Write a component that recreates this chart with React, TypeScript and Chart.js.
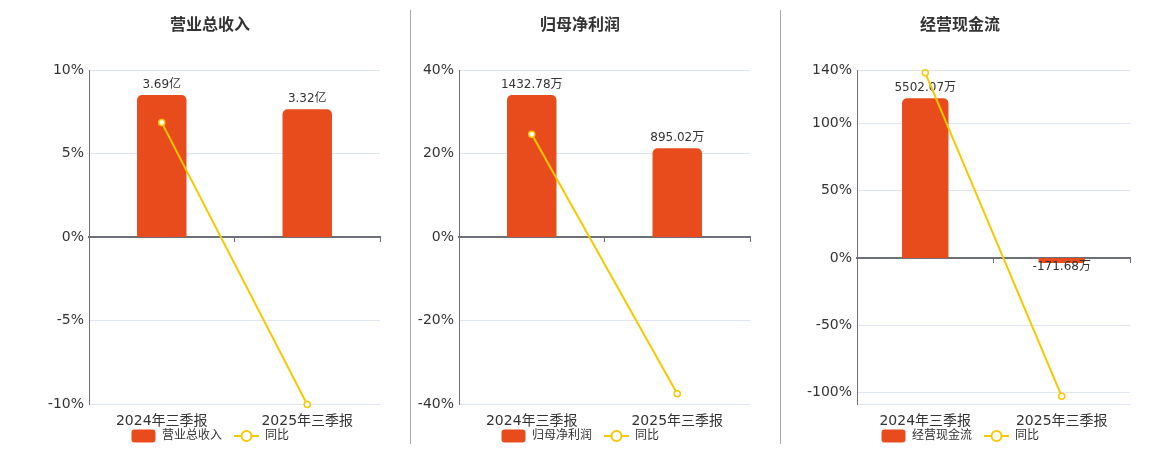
import React, { useEffect, useRef } from 'react';
import Chart from 'chart.js/auto';

const periods = ['2024年三季报', '2025年三季报'];

const revenueValues = [3.69, 3.32];
const revenueLabels = ['3.69亿', '3.32亿'];
const revenueYoy = [6.85, -10.03];
const revenueTicks = [-10, -5, 0, 5, 10];
const revenueRange = [-10, 10];

const profitValues = [1432.78, 895.02];
const profitLabels = ['1432.78万', '895.02万'];
const profitYoy = [24.6, -37.53];
const profitTicks = [-40, -20, 0, 20, 40];
const profitRange = [-40, 40];

const cashValues = [5502.07, -171.68];
const cashLabels = ['5502.07万', '-171.68万'];
const cashYoy = [137.9, -103.12];
const cashTicks = [-100, -50, 0, 50, 100, 140];
const cashRange = [-108.8, 140];

const BAR = '#e84c1c';
const LINE = '#f5c800';
const AXIS = '#6e7079';
const GRID = '#e0e6f1';
const TEXT = '#333';
const FONT = '"DejaVu Sans", "Noto Sans CJK SC", sans-serif';

Chart.defaults.font.family = FONT;

function makeBarIcon() {
  const c = document.createElement('canvas');
  c.width = 25;
  c.height = 14;
  const ctx = c.getContext('2d')!;
  ctx.fillStyle = BAR;
  ctx.beginPath();
  ctx.roundRect(0.5, 0.5, 24, 13, 3);
  ctx.fill();
  return c;
}

function makeLineIcon() {
  const c = document.createElement('canvas');
  c.width = 25;
  c.height = 14;
  const ctx = c.getContext('2d')!;
  ctx.strokeStyle = LINE;
  ctx.lineWidth = 2;
  ctx.beginPath();
  ctx.moveTo(0, 7);
  ctx.lineTo(25, 7);
  ctx.stroke();
  ctx.beginPath();
  ctx.arc(12.5, 7, 5, 0, Math.PI * 2);
  ctx.fillStyle = '#fff';
  ctx.fill();
  ctx.stroke();
  return c;
}

const noPadding = (s: any) => {
  s.paddingLeft = 0;
  s.paddingRight = 0;
};

interface PanelProps {
  title: string;
  values: number[];
  labels: string[];
  yoy: number[];
  ticks: number[];
  range: number[];
  axisWidth: number;
  left: number;
}

const Panel: React.FC<PanelProps> = ({ title, values, labels, yoy, ticks, range, axisWidth, left }) => {
  const canvasRef = useRef<HTMLCanvasElement>(null);

  useEffect(() => {
    if (!canvasRef.current) return;
    const barIcon = makeBarIcon();
    const lineIcon = makeLineIcon();

    // bar axis: tallest bar at 85% of the upper half, zero aligned with the % axis
    const barMax = Math.max(...values.map(Math.abs)) / 0.85;
    const barMin = (barMax * range[0]) / range[1];

    const labelPlugin = {
      id: 'barLabels',
      beforeDatasetDraw(chart: any, args: any) {
        if (args.index !== 1) return;
        const ctx = chart.ctx;
        const meta = chart.getDatasetMeta(0);
        ctx.save();
        ctx.font = `12px ${FONT}`;
        ctx.fillStyle = TEXT;
        ctx.textAlign = 'center';
        ctx.textBaseline = 'middle';
        meta.data.forEach((bar: any, i: number) => {
          const y = values[i] >= 0 ? bar.y - 10 : bar.y + 4;
          ctx.fillText(labels[i], bar.x, y);
        });
        ctx.restore();
      },
    };

    const gridTicks = Array.from(new Set([range[0], ...ticks, range[1]])).sort((a, b) => a - b);

    const chart = new Chart(canvasRef.current, {
      data: {
        labels: periods,
        datasets: [
          {
            type: 'bar',
            label: title,
            data: values,
            xAxisID: 'x',
            yAxisID: 'yBar',
            backgroundColor: BAR,
            borderRadius: 5,
            barPercentage: 0.34,
            categoryPercentage: 1,
            order: 1,
          },
          {
            type: 'line',
            label: '同比',
            data: yoy,
            xAxisID: 'x',
            yAxisID: 'y',
            borderColor: LINE,
            borderWidth: 2,
            pointRadius: 3,
            pointBackgroundColor: '#fff',
            pointBorderColor: LINE,
            pointBorderWidth: 1.5,
            tension: 0,
            clip: false,
            order: 0,
          },
        ],
      } as any,
      options: {
        responsive: false,
        animation: false,
        layout: { autoPadding: false, padding: { right: 2 } },
        plugins: {
          title: {
            display: true,
            text: title,
            color: TEXT,
            font: { size: 16, weight: 'bold' },
            padding: { top: 13.9, bottom: 34.9 },
          },
          legend: {
            position: 'bottom',
            labels: {
              color: TEXT,
              font: { size: 12 },
              padding: 12,
              usePointStyle: true,
              pointStyleWidth: 25,
              boxHeight: 12,
              generateLabels: (c: any) =>
                c.data.datasets.map((ds: any, i: number) => ({
                  text: ds.label,
                  pointStyle: i === 0 ? barIcon : lineIcon,
                  fillStyle: 'transparent',
                  strokeStyle: 'transparent',
                  lineWidth: 0,
                  fontColor: TEXT,
                  hidden: false,
                  datasetIndex: i,
                })),
            },
          },
          tooltip: { enabled: false },
        },
        scales: {
          // reserves the room between the plot and the legend
          x: {
            type: 'category',
            position: 'bottom',
            offset: true,
            grid: { display: false, drawTicks: false },
            border: { display: false },
            ticks: { display: false },
            afterFit: (s: any) => {
              noPadding(s);
              s.height = 14;
            },
          },
          // category labels under the lowest % value
          xLabels: {
            type: 'category',
            position: { y: range[0] },
            offset: true,
            grid: { display: false, drawTicks: false },
            border: { display: false },
            ticks: { color: TEXT, font: { size: 14 }, padding: 8.5, maxRotation: 0, autoSkip: false },
            afterFit: noPadding,
          },
          // zero line with its small ticks
          xZero: {
            type: 'category',
            position: { y: 0 },
            offset: true,
            grid: { offset: true, drawOnChartArea: false, drawTicks: true, tickLength: 4, color: AXIS, lineWidth: 1 },
            border: { display: true, color: AXIS, width: 2 },
            ticks: { display: false },
            afterFit: noPadding,
          },
          y: {
            type: 'linear',
            position: 'left',
            min: range[0],
            max: range[1],
            grid: { color: GRID, drawTicks: false },
            border: { display: true, color: AXIS, width: 1 },
            ticks: {
              color: TEXT,
              font: { size: 14 },
              padding: 5,
              callback: (v: any) => (ticks.includes(v) ? `${v}%` : ''),
            },
            afterBuildTicks: (s: any) => {
              s.ticks = gridTicks.map((v) => ({ value: v }));
            },
            afterFit: (s: any) => {
              s.width = axisWidth;
            },
          },
          yBar: { type: 'linear', display: false, min: barMin, max: barMax },
        },
      } as any,
      plugins: [labelPlugin],
    });

    return () => chart.destroy();
  }, [title, values, labels, yoy, ticks, range, axisWidth]);

  return (
    <canvas
      ref={canvasRef}
      width={342}
      height={450}
      style={{ position: 'absolute', left, top: 2, width: 342, height: 450 }}
    />
  );
};

export default function App() {
  return (
    <div style={{ position: 'absolute', left: 0, top: 0, width: 1160, height: 450, background: '#fff', overflow: 'hidden' }}>
      <Panel title="营业总收入" values={revenueValues} labels={revenueLabels} yoy={revenueYoy} ticks={revenueTicks} range={revenueRange} axisWidth={49} left={40} />
      <Panel title="归母净利润" values={profitValues} labels={profitLabels} yoy={profitYoy} ticks={profitTicks} range={profitRange} axisWidth={49} left={410} />
      <Panel title="经营现金流" values={cashValues} labels={cashLabels} yoy={cashYoy} ticks={cashTicks} range={cashRange} axisWidth={67} left={790} />
      <div style={{ position: 'absolute', left: 410, top: 10, width: 1, height: 434, background: '#aaa' }} />
      <div style={{ position: 'absolute', left: 780, top: 10, width: 1, height: 434, background: '#aaa' }} />
    </div>
  );
}
